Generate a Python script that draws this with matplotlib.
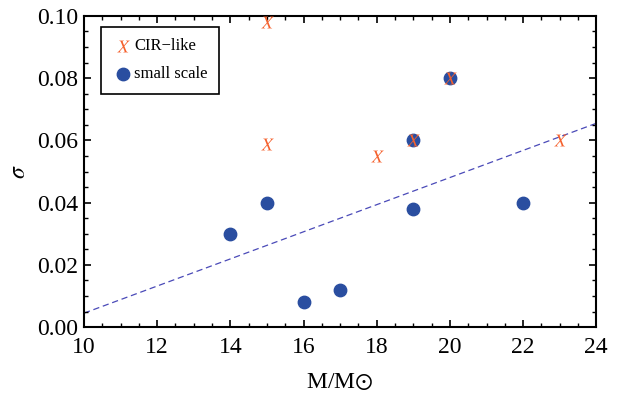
import matplotlib.pyplot as plt
from matplotlib.ticker import MultipleLocator

plt.rcParams['font.family'] = 'Liberation Serif'
plt.rcParams['mathtext.fontset'] = 'stix'

# CIR-like points
cir_m = [15, 15, 18, 19, 20, 23]
cir_sigma = [0.098, 0.059, 0.055, 0.060, 0.080, 0.060]

# small scale points
small_m = [14, 15, 16, 17, 19, 19, 20, 22]
small_sigma = [0.030, 0.040, 0.008, 0.012, 0.060, 0.038, 0.080, 0.040]

# dashed fit line
fit_m = [10, 24]
fit_sigma = [0.0045, 0.0655]

fig = plt.figure(figsize=(6.27, 3.98), dpi=100)
ax = fig.add_axes([0.134, 0.178, 0.817, 0.782])

ax.plot(fit_m, fit_sigma, ls=(0, (5, 3)), color='#4a4ab8', lw=0.9, zorder=1)
ax.scatter(small_m, small_sigma, s=80, color='#2a4ea0', label='small scale', zorder=2)
ax.scatter(cir_m, cir_sigma, s=80, marker=r'$\mathit{X}$', color='#f5602c',
           linewidths=0, label='CIR\u2212like', zorder=3)

ax.set_xlim(10, 24)
ax.set_ylim(0, 0.10)
ax.xaxis.set_major_locator(MultipleLocator(2))
ax.xaxis.set_minor_locator(MultipleLocator(0.5))
ax.yaxis.set_major_locator(MultipleLocator(0.02))
ax.yaxis.set_minor_locator(MultipleLocator(0.005))
ax.yaxis.set_major_formatter(plt.FormatStrFormatter('%.2f'))
ax.tick_params(which='both', direction='in', top=True, right=True, labelsize=17)
ax.tick_params(axis='x', which='major', pad=7)
ax.tick_params(axis='y', which='major', pad=4)
ax.tick_params(which='major', length=5, width=1.2)
ax.tick_params(which='minor', length=3, width=1)
for s in ax.spines.values():
    s.set_linewidth(1.5)

ax.set_xlabel(r'M/M$\odot$', fontsize=17, labelpad=10)
ax.set_ylabel(r'$\sigma$', fontsize=17, labelpad=5)

h, l = ax.get_legend_handles_labels()
leg = ax.legend(h[::-1], l[::-1], loc='upper left', fontsize=12, fancybox=False,
                edgecolor='black', framealpha=1, handletextpad=0.1, handlelength=1.2,
                borderpad=0.7, labelspacing=0.7, borderaxespad=0,
                bbox_to_anchor=(0.033, 0.965))
leg.get_frame().set_linewidth(1.2)

fig.savefig('out.png', dpi=100)
